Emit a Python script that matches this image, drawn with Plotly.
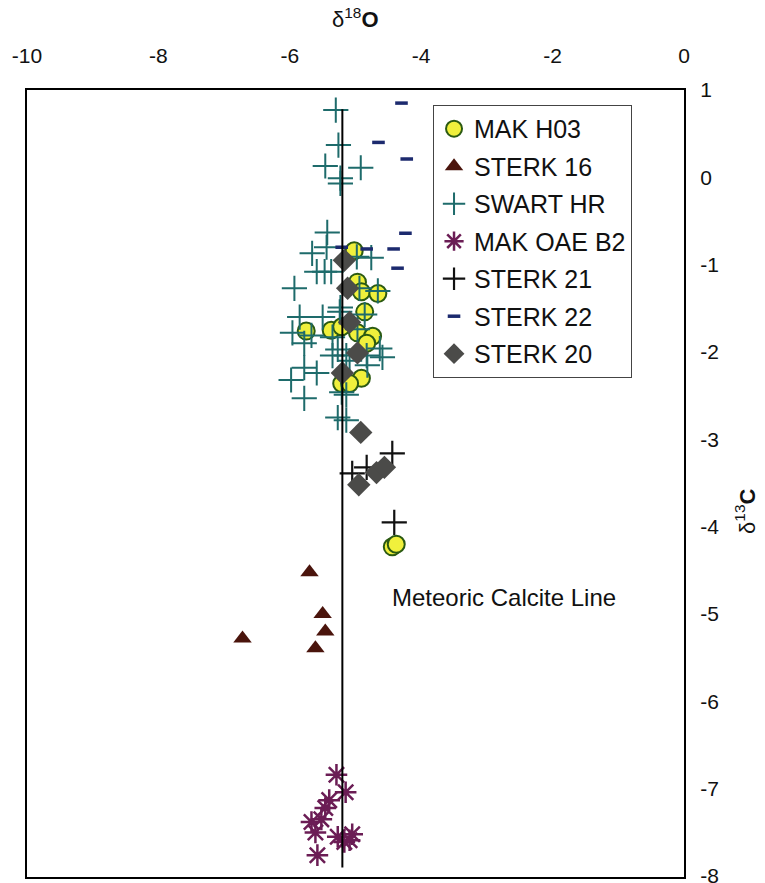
import plotly.graph_objects as go

# δ18O / δ13C values per sample set
mak_h03_o = [-5.02, -4.97, -4.91, -4.66, -4.86, -5.75, -5.37, -5.21, -4.97, -4.74, -4.83, -4.91, -5.21, -5.09, -4.44, -4.38]
mak_h03_c = [-0.84, -1.20, -1.31, -1.33, -1.54, -1.76, -1.75, -1.71, -1.78, -1.82, -1.90, -2.30, -2.36, -2.36, -4.23, -4.20]

sterk16_o = [-5.70, -5.50, -5.46, -5.61, -6.72]
sterk16_c = [-4.52, -5.00, -5.20, -5.39, -5.28]

swart_hr_o = [-5.30, -5.26, -5.46, -4.92, -5.23, -5.23, -5.43, -5.44, -5.66, -4.98, -4.76, -5.59, -5.47, -5.37,
              -5.93, -4.94, -5.85, -5.50, -5.24, -5.96, -5.67, -5.35, -4.66, -4.86, -4.97, -5.78, -5.27, -4.63,
              -5.35, -5.14, -4.83, -4.59, -5.78, -5.59, -5.98, -5.09, -4.82, -5.78, -5.21, -5.14, -5.27, -5.14, -5.23]
swart_hr_c = [0.77, 0.37, 0.13, 0.11, -0.01, -0.07, -0.63, -0.80, -0.87, -0.91, -0.92, -1.08, -1.08, -1.08,
              -1.27, -1.27, -1.60, -1.60, -1.54, -1.78, -1.81, -1.83, -1.30, -1.57, -1.74, -1.90, -1.97, -1.96,
              -2.04, -2.04, -2.04, -2.06, -2.18, -2.24, -2.32, -2.10, -2.15, -2.53, -2.46, -2.49, -2.75, -2.78, -1.49]

mak_oae_b2_o = [-5.29, -5.15, -5.46, -5.67, -5.52, -5.61, -5.27, -5.05, -5.17, -5.58, -5.40, -5.09]
mak_oae_b2_c = [-6.84, -7.04, -7.22, -7.38, -7.35, -7.50, -7.55, -7.52, -7.61, -7.76, -7.13, -7.59]

sterk21_o = [-4.44, -4.83, -5.05, -4.41]
sterk21_c = [-3.16, -3.32, -3.39, -3.95]

sterk22_o = [-4.30, -4.65, -4.22, -4.24, -4.42, -4.36, -5.21, -4.83]
sterk22_c = [0.85, 0.40, 0.21, -0.64, -0.82, -1.04, -0.80, -0.82]

sterk20_o = [-5.17, -5.12, -5.09, -4.97, -5.20, -4.92, -4.68, -4.56, -4.95]
sterk20_c = [-0.95, -1.27, -1.66, -2.01, -2.24, -2.92, -3.38, -3.32, -3.52]

# meteoric calcite line (constant δ18O)
mcl_o = [-5.2, -5.2]
mcl_c = [0.78, -7.9]

x_ticks = [-10, -8, -6, -4, -2, 0]
y_ticks = [1, 0, -1, -2, -3, -4, -5, -6, -7, -8]

FONT = "Liberation Sans, Arial, sans-serif"

fig = go.Figure()

series = [
    ("MAK H03", mak_h03_o, mak_h03_c,
     dict(symbol="circle", size=17, color="#f0f03c", line=dict(color="#2b5a12", width=2))),
    ("STERK 16", sterk16_o, sterk16_c,
     dict(symbol="triangle-up", size=16, color="#4a140c", line=dict(width=0))),
    ("SWART HR", swart_hr_o, swart_hr_c,
     dict(symbol="cross-thin-open", size=18, color="#1e6b6b", line=dict(color="#1e6b6b", width=2))),
    ("MAK OAE B2", mak_oae_b2_o, mak_oae_b2_c,
     dict(symbol="asterisk-open", size=18, color="#6b1d55", line=dict(color="#6b1d55", width=2.5))),
    ("STERK 21", sterk21_o, sterk21_c,
     dict(symbol="cross-thin-open", size=18, color="#111111", line=dict(color="#111111", width=2.2))),
    ("STERK 22", sterk22_o, sterk22_c,
     dict(symbol="line-ew-open", size=9, color="#1c2a6e", line=dict(color="#1c2a6e", width=3.5))),
    ("STERK 20", sterk20_o, sterk20_c,
     dict(symbol="diamond", size=18, color="#4b4b49", line=dict(width=0))),
]

for i, (name, xs, ys, mk) in enumerate(series):
    fig.add_trace(go.Scatter(
        x=xs, y=ys, mode="markers", name=name, marker=mk,
        legendgroup=f"g{i}",
    ))

fig.add_trace(go.Scatter(
    x=mcl_o, y=mcl_c, mode="lines", line=dict(color="black", width=2),
    showlegend=False, hoverinfo="skip",
))

fig.update_layout(
    width=765, height=883,
    margin=dict(l=27, r=81, t=90, b=6),
    paper_bgcolor="white", plot_bgcolor="white",
    font=dict(family=FONT, size=20, color="#111111"),
    showlegend=True,
    legend=dict(
        x=0.618, y=0.981, xanchor="left", yanchor="top",
        bgcolor="white", bordercolor="#444444", borderwidth=1,
        font=dict(family=FONT, size=25, color="#111111"),
        tracegroupgap=2, traceorder="grouped",
        itemwidth=30, entrywidth=170,
    ),
    xaxis=dict(
        range=[-10, 0], side="top", tickvals=x_ticks,
        ticktext=[str(v) for v in x_ticks],
        showgrid=False, zeroline=False, ticks="",
        showline=True, mirror=True, linecolor="black", linewidth=2,
        ticklabelstandoff=17, tickfont=dict(size=21), automargin=False,
    ),
    yaxis=dict(
        range=[-8.01, 1], side="right", tickvals=y_ticks,
        ticktext=[str(v) for v in y_ticks],
        showgrid=False, zeroline=False, ticks="",
        showline=True, mirror=True, linecolor="black", linewidth=2,
        ticklabelstandoff=10, tickfont=dict(size=21),
        ticklabeloverflow="allow", automargin=False,
    ),
    annotations=[
        dict(text="δ<sup>18</sup><b>O</b>", xref="paper", yref="paper",
             x=0.50, y=1.091, xanchor="center", yanchor="middle",
             showarrow=False, font=dict(size=22)),
        dict(text="δ<sup>13</sup><b>C</b>", xref="paper", yref="paper",
             x=1.093, y=0.464, xanchor="center", yanchor="middle",
             textangle=-90, showarrow=False, font=dict(size=22)),
        dict(text="Meteoric Calcite Line", xref="x", yref="y",
             x=-4.47, y=-4.81, xanchor="left", yanchor="middle",
             showarrow=False, font=dict(size=24)),
    ],
)

fig.write_html("out.html")
